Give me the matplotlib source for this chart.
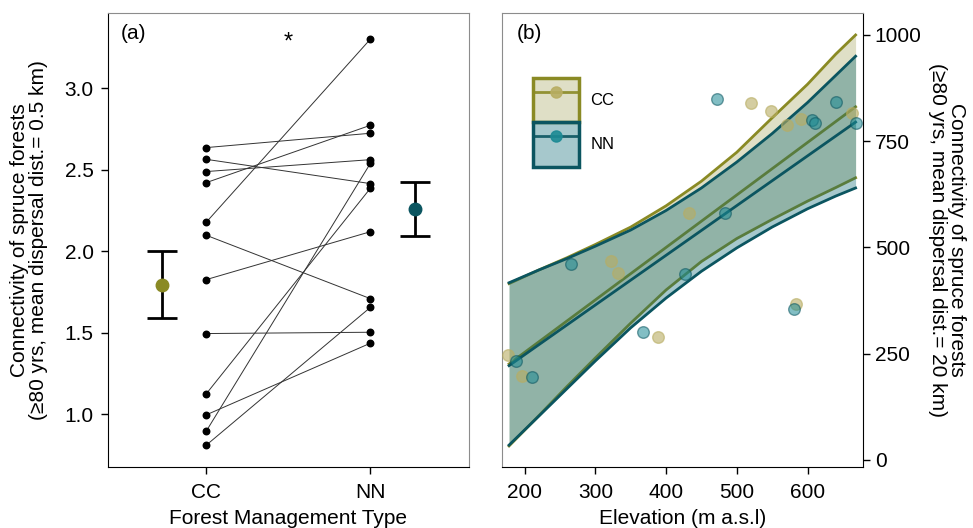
import matplotlib.pyplot as plt
from matplotlib.patches import Patch
from matplotlib.lines import Line2D

plt.rcParams["font.family"] = ["Liberation Sans", "DejaVu Sans"]

# -----------------------------
# Panel (a): paired connectivity values per site
# -----------------------------
cc_values = [2.636, 2.564, 2.489, 2.421, 2.178, 2.098, 1.826, 1.495, 1.125, 0.996, 0.896, 0.810]
nn_values = [2.724, 2.415, 2.562, 2.773, 3.302, 1.709, 2.120, 1.503, 2.387, 1.436, 2.540, 1.656]
group_labels = ["CC", "NN"]

# Group means with interval ends
mean_values = [1.795, 2.261]
mean_lower = [1.593, 2.094]
mean_upper = [2.000, 2.427]

# -----------------------------
# Panel (b): connectivity vs elevation
# -----------------------------
cc_elev = [177, 197, 322, 332, 388, 432, 520, 548, 571, 591, 584, 663]
cc_conn = [247, 198, 468, 439, 289, 580, 841, 821, 788, 802, 367, 817]
nn_elev = [188, 211, 265, 368, 427, 483, 472, 581, 607, 611, 640, 668]
nn_conn = [234, 195, 461, 302, 437, 580, 849, 355, 800, 794, 843, 792]

# Fitted lines and confidence bands
fit_elev = [178, 668]
cc_fit = [226, 831]
nn_fit = [222, 795]
band_elev = [178, 220, 260, 300, 350, 400, 450, 500, 550, 600, 640, 668]
cc_upper = [415, 447, 476, 507, 548, 598, 656, 724, 805, 884, 955, 1000]
cc_lower = [33, 104, 173, 240, 322, 400, 467, 521, 566, 609, 641, 664]
nn_upper = [417, 447, 474, 503, 541, 587, 640, 701, 768, 841, 905, 950]
nn_lower = [35, 103, 168, 233, 311, 381, 444, 499, 548, 591, 621, 640]

# Colours
cc_col = "#8a8a24"
nn_col = "#0b5560"
cc_fill = (0.50, 0.50, 0.12, 0.25)
nn_fill = (0.0, 0.39, 0.43, 0.35)
cc_pt = "#b8ad62"
nn_pt = "#1c8a94"
frame_gray = "#8c8c8c"

fig = plt.figure(figsize=(9.73, 5.28), dpi=100)
ax1 = fig.add_axes([0.1107, 0.1161, 0.3713, 0.8587])
ax2 = fig.add_axes([0.5159, 0.1161, 0.3710, 0.8587])

# ---- panel (a) ----
for a, b in zip(cc_values, nn_values):
    ax1.plot([1, 2], [a, b], color="#333333", lw=0.7, zorder=2)
ax1.scatter([1] * len(cc_values), cc_values, s=22, color="black", zorder=3)
ax1.scatter([2] * len(nn_values), nn_values, s=22, color="black", zorder=3)

mean_x = [0.73, 2.27]
for x, m, lo, hi, c in zip(mean_x, mean_values, mean_lower, mean_upper, [cc_col, nn_col]):
    ax1.errorbar(x, m, yerr=[[m - lo], [hi - m]], fmt="none", ecolor="black",
                 elinewidth=2, capsize=11, capthick=2, zorder=3)
    ax1.plot(x, m, "o", ms=9, color=c, zorder=4)

ax1.text(1.5, 3.28, "*", ha="center", va="center", fontsize=17)
ax1.text(0.035, 0.955, "(a)", transform=ax1.transAxes, fontsize=15, va="center")

ax1.set_xlim(0.4, 2.6)
ax1.set_ylim(0.678, 3.46)
ax1.set_xticks([1, 2])
ax1.set_xticklabels(group_labels)
ax1.set_yticks([1.0, 1.5, 2.0, 2.5, 3.0])
ax1.set_yticklabels(["1.0", "1.5", "2.0", "2.5", "3.0"])
ax1.set_xlabel("Forest Management Type", fontsize=15, labelpad=5)
ax1.set_ylabel("Connectivity of spruce forests\n(\u226580 yrs, mean dispersal dist.= 0.5 km)",
               fontsize=15, labelpad=12, linespacing=1.0)
ax1.tick_params(direction="out", length=5, width=1, labelsize=15)
ax1.tick_params(axis="x", pad=7)
ax1.tick_params(axis="y", pad=5)
for side in ["top", "right"]:
    ax1.spines[side].set_color(frame_gray)

# ---- panel (b) ----
ax2.fill_between(band_elev, cc_lower, cc_upper, color=cc_fill, lw=0, zorder=1)
ax2.plot(band_elev, cc_upper, color=cc_col, lw=2, zorder=2)
ax2.plot(band_elev, cc_lower, color=cc_col, lw=2, zorder=2)
ax2.plot(fit_elev, cc_fit, color=cc_col, lw=2, zorder=2)

ax2.fill_between(band_elev, nn_lower, nn_upper, color=nn_fill, lw=0, zorder=3)
ax2.plot(band_elev, nn_upper, color=nn_col, lw=2, zorder=4)
ax2.plot(band_elev, nn_lower, color=nn_col, lw=2, zorder=4)
ax2.plot(fit_elev, nn_fit, color=nn_col, lw=2, zorder=4)

ax2.scatter(cc_elev, cc_conn, s=70, color=cc_pt, alpha=0.6, edgecolors=cc_pt, lw=1, zorder=5)
ax2.scatter(nn_elev, nn_conn, s=70, color=nn_pt, alpha=0.55, edgecolors=nn_col, lw=1, zorder=5)

ax2.text(0.04, 0.955, "(b)", transform=ax2.transAxes, fontsize=15, va="center")

handles = [
    (Patch(facecolor=cc_fill, edgecolor=cc_col, lw=2.5),
     Line2D([], [], color=cc_col, lw=2, marker="o", ms=8, markerfacecolor=cc_pt,
            markeredgecolor=cc_pt, alpha=0.9)),
    (Patch(facecolor=nn_fill, edgecolor=nn_col, lw=2.5),
     Line2D([], [], color=nn_col, lw=2, marker="o", ms=8, markerfacecolor=nn_pt,
            markeredgecolor=nn_pt, alpha=0.9)),
]
ax2.legend(handles, group_labels, loc="upper left", bbox_to_anchor=(0.063, 0.875),
           frameon=False, fontsize=12, handlelength=2.75, handleheight=3.7,
           labelspacing=0.0, handletextpad=0.7, borderpad=0)

ax2.set_xlim(168, 678.4)
ax2.set_ylim(-15.8, 1051)
ax2.set_xticks([200, 300, 400, 500, 600])
ax2.set_yticks([0, 250, 500, 750, 1000])
ax2.yaxis.tick_right()
ax2.yaxis.set_label_position("right")
ax2.set_xlabel("Elevation (m a.s.l)", fontsize=15, labelpad=5)
ax2.set_ylabel("Connectivity of spruce forests\n(\u226580 yrs, mean dispersal dist.= 20 km)",
               fontsize=15, rotation=270, labelpad=32, linespacing=1.0)
ax2.tick_params(direction="out", length=5, width=1, labelsize=15)
ax2.tick_params(axis="x", pad=7)
for side in ["top", "left"]:
    ax2.spines[side].set_color(frame_gray)

plt.savefig("out.png", dpi=100)
